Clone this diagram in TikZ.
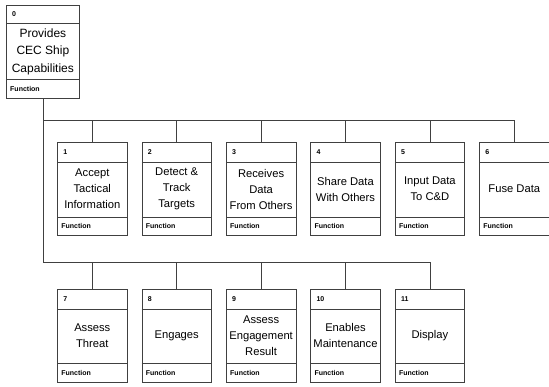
\documentclass[tikz,border=0pt]{standalone}
\usepackage{fontspec}
\setmainfont{Liberation Sans}
\usetikzlibrary{matrix}

\begin{document}
\begin{tikzpicture}[
x=1pt, y=-1pt,
box/.style={
  draw=black!75,
  line width=0.7pt,
  rectangle,
  inner sep=0pt,
  minimum width=69.5pt,
  minimum height=93pt,
  font=\fontsize{11.2}{16}\selectfont
  },
top/.style={
  box,
  minimum width=73pt,
  font=\fontsize{12}{17.5}\selectfont
  },
net/.style={
  matrix of nodes,
  nodes={box},
  column sep=14.2pt,
  row sep=53pt,
  inner sep=0pt
  },
tag/.style={
  inner sep=0pt,
  font=\fontsize{7}{8}\selectfont\bfseries
  },
link/.style={
  draw=black!75,
  line width=0.7pt
  }
]
\useasboundingbox (0,0) rectangle (549,387);
\node[top, anchor=north west] (root) at (6,5)
  {\parbox{73pt}{\centering Provides\\CEC Ship\\Capabilities}};
\node[tag, anchor=west] (root-num) at ([xshift=6pt,yshift=-9pt]root.north west) {0};
\node[tag, anchor=west] (root-fn) at ([xshift=4pt,yshift=9.5pt]root.south west) {Function};
\draw[link] ([yshift=-18pt]root.north west) -- ([yshift=-18pt]root.north east);
\draw[link] ([yshift=19pt]root.south west) -- ([yshift=19pt]root.south east);
\matrix[net, anchor=north west] (mat) at (57,142)
{
\parbox{69.5pt}{\centering Accept\\Tactical\\Information} &
\parbox{69.5pt}{\centering Detect \&\\Track\\Targets} &
\parbox{69.5pt}{\centering Receives\\Data\\From Others} &
\parbox{69.5pt}{\centering Share Data\\With Others} &
\parbox{69.5pt}{\centering Input Data\\To C\&D} &
\parbox{69.5pt}{\centering Fuse Data} \\
\parbox{69.5pt}{\centering Assess\\Threat} &
\parbox{69.5pt}{\centering Engages} &
\parbox{69.5pt}{\centering Assess\\Engagement\\Result} &
\parbox{69.5pt}{\centering Enables\\Maintenance} &
\parbox{69.5pt}{\centering Display} & \\
};
\foreach \r/\c/\n in {1/1/1,1/2/2,1/3/3,1/4/4,1/5/5,1/6/6,2/1/7,2/2/8,2/3/9,2/4/10,2/5/11}
{
  \node[tag, anchor=west] (num-\n) at ([xshift=6pt,yshift=-10pt]mat-\r-\c.north west) {\n};
  \node[tag, anchor=west] (fn-\n) at ([xshift=4pt,yshift=9.5pt]mat-\r-\c.south west) {Function};
  \draw[link] ([yshift=-20pt]mat-\r-\c.north west) -- ([yshift=-20pt]mat-\r-\c.north east);
  \draw[link] ([yshift=19pt]mat-\r-\c.south west) -- ([yshift=19pt]mat-\r-\c.south east);
}
\foreach \c in {1,...,6}
  \draw[link] (root.south) |- ([yshift=22pt]mat-1-\c.north) -- (mat-1-\c.north);
\foreach \c in {1,...,5}
  \draw[link] (root.south) |- ([yshift=27pt]mat-2-\c.north) -- (mat-2-\c.north);
\end{tikzpicture}
\end{document}
